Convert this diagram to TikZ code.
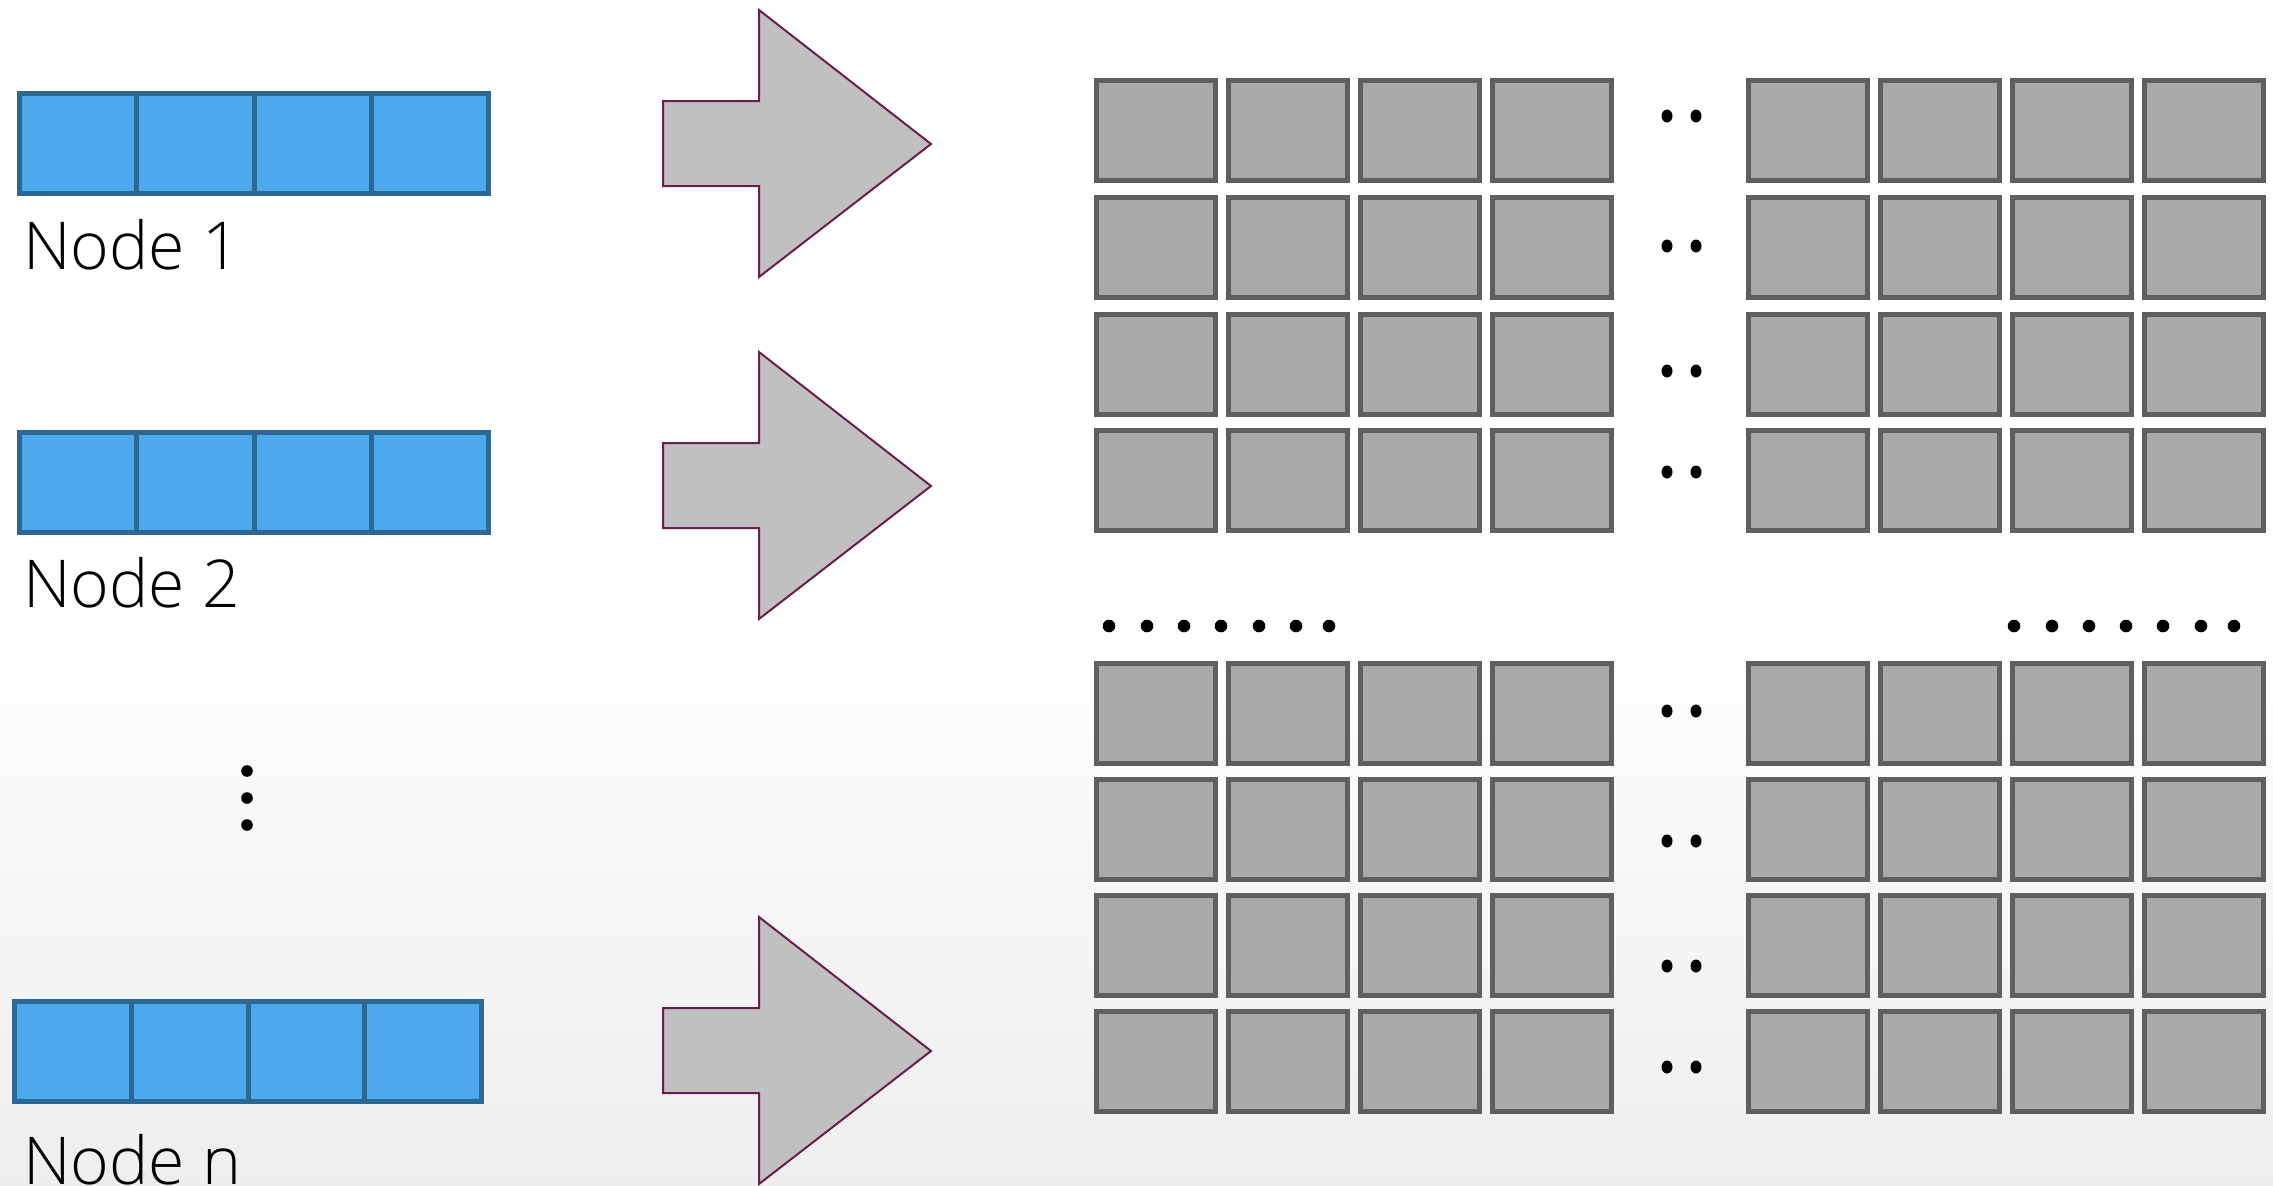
\documentclass[tikz,border=0pt]{standalone}
\usepackage{fontspec}
\setmainfont{Open Sans Light}
\definecolor{bluefill}{HTML}{4DA8EC}
\definecolor{blueline}{HTML}{2D6894}
\definecolor{arrowfill}{HTML}{C0C0C0}
\definecolor{arrowline}{HTML}{6B1E4C}
\definecolor{sqfill}{HTML}{A9A9A9}
\definecolor{sqline}{HTML}{5F5F5F}
\definecolor{bgbottom}{HTML}{EEEEEE}
\tikzset{
  bluecell/.style={draw=blueline, fill=bluefill, line width=5pt, inner sep=0pt,
    minimum height=100pt, anchor=north west},
  sq/.style={draw=sqline, fill=sqfill, line width=5pt, inner sep=0pt,
    minimum width=119pt, minimum height=100pt, anchor=north west},
  bigarrow/.style={draw=arrowline, fill=arrowfill, line width=2pt, line join=miter},
  lbl/.style={anchor=base west, inner sep=0pt, font=\fontsize{66}{70}\selectfont},
  dotmark/.style={fill=black},
}
\begin{document}
\begin{tikzpicture}[x=1pt, y=-1pt]
\useasboundingbox (0,0) rectangle (2273,1186);
\fill[white] (0,0) rectangle (2273,1186);
\shade[top color=white, bottom color=bgbottom] (0,620) rectangle (2273,1186);

% blue bars
\foreach \i in {0,1,2,3} {
  \node[bluecell, minimum width=117.25pt] (a\i) at ({17+117.25*\i},91) {};
  \node[bluecell, minimum width=117.25pt] (b\i) at ({17+117.25*\i},430) {};
  \node[bluecell, minimum width=116.75pt] (c\i) at ({12+116.75*\i},999) {};
}
\node[lbl] (t1) at (23,269) {Node 1};
\node[lbl] (t2) at (23,607) {Node 2};
\node[lbl] (tn) at (23,1184) {Node n};

% vertical dots
\foreach \y [count=\k] in {771,798,825} {
  \fill[dotmark] (247,\y) circle [radius=5.8];
}

% arrows
\foreach \s in {0,342,907} {
  \draw[bigarrow, shift={(0,\s)}] (663,101) -- (759,101) -- (759,10) -- (931,144)
    -- (759,277) -- (759,186) -- (663,186) -- cycle;
}

% grids
\foreach \r/\top in {1/78,2/195,3/312,4/428,5/661,6/777,7/893,8/1009} {
  \foreach \c/\left in {1/1094,2/1226,3/1358,4/1490,5/1746,6/1878,7/2010,8/2142} {
    \node[sq] (s\r-\c) at (\left,\top) {};
  }
}

% pair dots between grid halves
\foreach \y in {116,246,371,472,711,841,966,1067} {
  \fill[dotmark] (1667,\y) ellipse [x radius=5.5, y radius=6.5];
  \fill[dotmark] (1696,\y) ellipse [x radius=5.5, y radius=6.5];
}

% horizontal dot rows
\foreach \x in {1109,1147,1184,1221,1259,1296,1329} {
  \fill[dotmark] (\x,626) circle [radius=6.3];
}
\foreach \x in {2014,2052,2089,2126,2163,2201,2234} {
  \fill[dotmark] (\x,626) circle [radius=6.3];
}
\end{tikzpicture}
\end{document}
